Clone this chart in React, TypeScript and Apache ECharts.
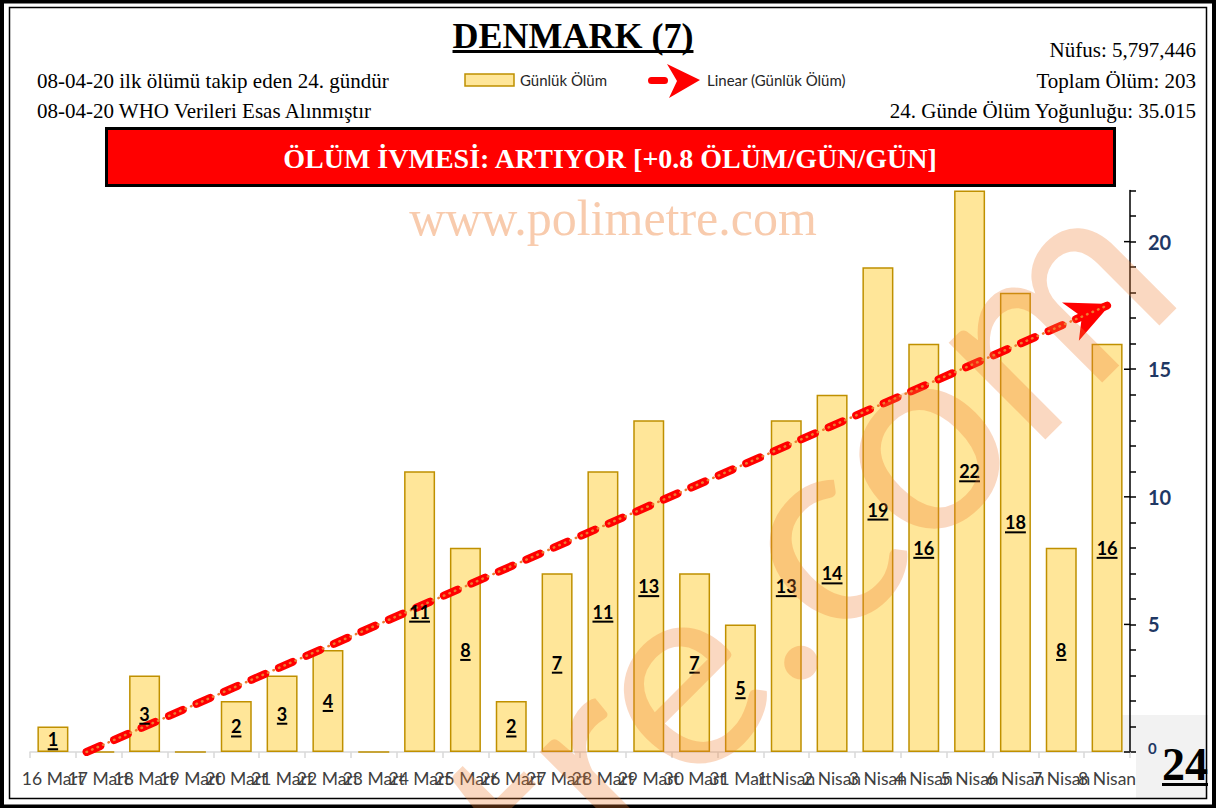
import React, { useEffect, useRef } from "react";
import * as echarts from "echarts";

// ---- data ----
const categories = [
  "16 Mart", "17 Mart", "18 Mart", "19 Mart", "20 Mart", "21 Mart", "22 Mart", "23 Mart",
  "24 Mart", "25 Mart", "26 Mart", "27 Mart", "28 Mart", "29 Mart", "30 Mart", "31 Mart",
  "1 Nisan", "2 Nisan", "3 Nisan", "4 Nisan", "5 Nisan", "6 Nisan", "7 Nisan", "8 Nisan",
];
const dailyDeaths = [1, 0, 3, 0, 2, 3, 4, 0, 11, 8, 2, 7, 11, 13, 7, 5, 13, 14, 19, 16, 22, 18, 8, 16];
const yLabelValues = [0, 5, 10, 15, 20];
const yMax = 22;

const titleText = "DENMARK (7)";
const infoLeft = ["08-04-20 ilk ölümü takip eden 24. gündür", "08-04-20 WHO Verileri Esas Alınmıştır"];
const infoRight = ["Nüfus: 5,797,446", "Toplam Ölüm: 203", "24. Günde Ölüm Yoğunluğu: 35.015"];
const bannerText = "ÖLÜM İVMESİ: ARTIYOR [+0.8 ÖLÜM/GÜN/GÜN]";
const watermarkTop = "www.polimetre.com";
const watermarkDiag = "polimetre.com";
const dayNumber = "24";
const legendNames = ["Günlük Ölüm", "Linear (Günlük Ölüm)"];

// ---- helpers ----
let measureCtx: CanvasRenderingContext2D | null = null;
function textWidth(t: string, font: string) {
  if (!measureCtx) measureCtx = document.createElement("canvas").getContext("2d");
  measureCtx!.font = font;
  return measureCtx!.measureText(t).width;
}

// least-squares linear trendline (Excel "Linear" trendline)
function linearFit(ys: number[]) {
  const n = ys.length;
  const mx = (n - 1) / 2;
  const my = ys.reduce((a, b) => a + b, 0) / n;
  let sxy = 0, sxx = 0;
  ys.forEach((y, i) => { sxy += (i - mx) * (y - my); sxx += (i - mx) * (i - mx); });
  const b = sxy / sxx;
  return { a: my - b * mx, b };
}

const SERIF = "'Liberation Serif', 'Times New Roman', serif";
const SANS = "Lato, 'Open Sans', sans-serif";

export default function App() {
  const ref = useRef<HTMLDivElement>(null);

  useEffect(() => {
    document.body.style.margin = "0";
    const chart = echarts.init(ref.current!, null, { renderer: "svg" });

    const W = 1216, H = 808;
    const grid = { left: 30, right: 86, top: 190.6, bottom: 56 };
    const plotW = W - grid.left - grid.right;
    const plotH = H - grid.top - grid.bottom;
    const n = categories.length;

    const { a, b } = linearFit(dailyDeaths);
    const x0 = Math.max(0, -a / b);
    const xEnd = n - 1;
    const trend = [[x0, Math.max(0, a + b * x0)], [xEnd, a + b * xEnd]];
    const angle = Math.atan((b * plotH / yMax) / (plotW / n));
    const angDeg = (angle * 180) / Math.PI;
    const arrowLen = 44;
    const arrowOff = [-(arrowLen / 2 - 4) * Math.cos(angle), (arrowLen / 2 - 4) * Math.sin(angle)];

    const labelFont = `bold 18px ${SANS}`;
    const titleFont = `bold 36px ${SERIF}`;
    const titleW = textWidth(titleText, titleFont);
    const dayFont = `bold 46px ${SERIF}`;
    const dayW = textWidth(dayNumber, dayFont);
    const infoFont = `21px ${SERIF}`;
    const legFont = `15px ${SANS}`;

    const txt = (x: number, y: number, text: string, font: string, fill: string, align = "left", extra: any = {}) => ({
      type: "text", x, y, ...extra,
      style: { text, font, fill, align, verticalAlign: "middle", textAlign: align, textVerticalAlign: "middle" },
    });

    const graphic: any[] = [
      // backgrounds
      { type: "rect", z: -10, shape: { x: 1115, y: 715, width: 93, height: 37 }, style: { fill: "#F2F2F2" } },
      { type: "rect", z: -10, shape: { x: 1136, y: 752, width: 72, height: 47 }, style: { fill: "#F2F2F2" } },
      // frame
      { type: "rect", z: 50, shape: { x: 2, y: 1.5, width: 1212, height: 805 }, style: { fill: "none", stroke: "#000", lineWidth: 4 } },
      { type: "rect", z: 50, shape: { x: 9.5, y: 7.5, width: 1197, height: 791 }, style: { fill: "none", stroke: "#000", lineWidth: 1.5 } },
      // title
      txt(573, 36, titleText, titleFont, "#000", "center"),
      { type: "rect", shape: { x: 573 - titleW / 2, y: 50, width: titleW, height: 3 }, style: { fill: "#000" } },
      // info
      txt(37, 81, infoLeft[0], infoFont, "#000"),
      txt(37, 111, infoLeft[1], infoFont, "#000"),
      txt(1196, 50, infoRight[0], infoFont, "#000", "right"),
      txt(1196, 81, infoRight[1], infoFont, "#000", "right"),
      txt(1196, 111, infoRight[2], infoFont, "#000", "right"),
      // legend
      { type: "rect", shape: { x: 465, y: 74, width: 49, height: 12 }, style: { fill: "#FFE699", stroke: "#BF9000", lineWidth: 1.5 } },
      txt(520, 80, legendNames[0], legFont, "#262626"),
      { type: "rect", shape: { x: 648, y: 77, width: 20, height: 7, r: 3.5 }, style: { fill: "#FF0000" } },
      { type: "polygon", shape: { points: [[667, 64], [700, 80], [669, 98], [677, 81]] }, style: { fill: "#FF0000" } },
      txt(707, 80, legendNames[1], legFont, "#262626"),
      // banner
      { type: "rect", shape: { x: 106.5, y: 128.5, width: 1008, height: 57 }, style: { fill: "#FF0000", stroke: "#000", lineWidth: 3 } },
      txt(610, 158, bannerText, `bold 28px ${SERIF}`, "#FFFFFF", "center"),
      // watermarks
      txt(613, 218, watermarkTop, `50px ${SERIF}`, "rgba(237,125,49,0.4)", "center"),
      {
        type: "text", z: 100, silent: true, x: 1115, y: 222, rotation: (45 * Math.PI) / 180,
        style: { text: watermarkDiag, font: `270px ${SANS}`, fill: "rgba(237,125,49,0.3)", align: "right", verticalAlign: "middle", textAlign: "right", textVerticalAlign: "middle" },
      },
      // day number
      txt(1185, 764, dayNumber, dayFont, "#000", "center"),
      { type: "rect", shape: { x: 1185 - dayW / 2, y: 783, width: dayW, height: 3 }, style: { fill: "#000" } },
    ];

    const option: any = {
      animation: false,
      backgroundColor: "#fff",
      grid: { ...grid, containLabel: false, outerBoundsMode: "none" },
      xAxis: [
        {
          type: "category",
          data: categories,
          axisLine: { onZero: false, lineStyle: { color: "#D9D9D9", width: 1.5 } },
          axisTick: { show: true, length: 6, lineStyle: { color: "#D9D9D9", width: 1.5 } },
          axisLabel: { interval: 0, color: "#404040", fontSize: 17.5, fontFamily: SANS, margin: 17 },
          splitLine: { show: false },
        },
        { type: "value", min: -0.5, max: n - 0.5, show: false },
      ],
      yAxis: [
        {
          type: "value", position: "right", min: 0, max: yMax, interval: 1,
          axisLine: { show: true, onZero: false, lineStyle: { color: "#000", width: 1.5 } },
          axisTick: { show: true, length: 6, lineStyle: { color: "#000", width: 1.5 } },
          splitLine: { show: false },
          axisLabel: {
            customValues: yLabelValues,
            margin: 18, color: "#1F3864", fontWeight: "bold", fontSize: 20, fontFamily: SANS,
            formatter: (v: number) => (yLabelValues.includes(v) ? (v === 0 ? "{s|0}" : String(v)) : ""),
            rich: { s: { fontSize: 15, fontWeight: "bold", color: "#1F3864", fontFamily: SANS, padding: [0, 0, 8, 0] } },
          },
        },
      ],
      series: [
        {
          name: legendNames[0],
          type: "bar",
          data: dailyDeaths,
          barWidth: 31,
          itemStyle: { color: "#FFE699", borderColor: "#BF9000", borderWidth: 1.5 },
          z: 2,
        },
        {
          name: legendNames[1],
          type: "line",
          xAxisIndex: 1,
          yAxisIndex: 0,
          z: 4,
          showSymbol: true,
          data: [
            { value: trend[0], symbol: "none" },
            {
              value: trend[1],
              symbol: "path://M0,0 L21,46 L0,33 L-21,46 Z",
              symbolSize: [42, arrowLen],
              symbolRotate: -(90 - angDeg),
              symbolOffset: arrowOff,
              itemStyle: { color: "#FF0000" },
            },
          ],
          lineStyle: { color: "#FF0000", width: 8, type: [15, 15], cap: "round" },
          itemStyle: { color: "#FF0000" },
        },
        {
          type: "line",
          xAxisIndex: 1,
          yAxisIndex: 0,
          z: 5,
          symbol: "none",
          data: trend,
          lineStyle: { color: "#ED7D31", width: 2.5, type: [0.5, 5.5], cap: "round" },
        },
        {
          // inner half of the major y ticks (they cross the axis line in the reference)
          type: "custom",
          xAxisIndex: 1,
          yAxisIndex: 0,
          z: 7,
          silent: true,
          data: yLabelValues.map((v) => [n - 0.5, v]),
          renderItem: (params: any, api: any) => {
            const p = api.coord([api.value(0), api.value(1)]);
            return { type: "line", shape: { x1: p[0] - 6, y1: p[1], x2: p[0], y2: p[1] }, style: { stroke: "#000", lineWidth: 1.5 } };
          },
        },
        {
          type: "custom",
          xAxisIndex: 0,
          yAxisIndex: 0,
          z: 6,
          data: dailyDeaths.map((v, i) => [i, v]),
          renderItem: (params: any, api: any) => {
            const i = api.value(0);
            const v = api.value(1);
            if (!v) return { type: "group", children: [] };
            const p = api.coord([i, v / 2]);
            const t = String(v);
            const w = textWidth(t, labelFont);
            return {
              type: "group",
              children: [
                { type: "text", x: p[0], y: p[1], style: { text: t, font: labelFont, fill: "#000", align: "center", verticalAlign: "middle", textAlign: "center", textVerticalAlign: "middle" } },
                { type: "rect", shape: { x: p[0] - w / 2, y: p[1] + 9, width: w, height: 2 }, style: { fill: "#000" } },
              ],
            };
          },
        },
      ],
      graphic,
    };

    chart.setOption(option);
    return () => chart.dispose();
  }, []);

  return <div ref={ref} style={{ position: "fixed", left: 0, top: 0, width: 1216, height: 808, background: "#fff" }} />;
}
